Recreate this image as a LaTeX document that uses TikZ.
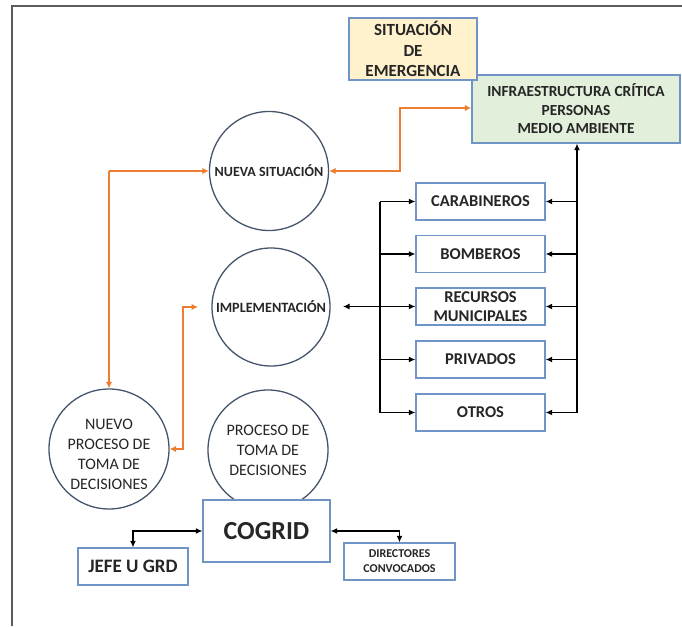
\documentclass[tikz,border=0pt]{standalone}
\usepackage{fontspec}
\setmainfont{Carlito}
\usetikzlibrary{arrows.meta}
\definecolor{boxblue}{HTML}{7094C6}
\definecolor{circblue}{HTML}{44546A}
\definecolor{txt}{HTML}{262626}
\definecolor{orangeline}{HTML}{ED7D31}
\definecolor{yellowfill}{HTML}{FFF2CC}
\definecolor{greenfill}{HTML}{E2EFDA}
\definecolor{framegray}{HTML}{5A5A5A}
\begin{document}
\begin{tikzpicture}[x=1pt,y=-1pt,
  box/.style={draw=boxblue, line width=1.4pt, fill=white, align=center, inner sep=0pt, text=txt,
    font=\bfseries\fontsize{16.5}{19}\selectfont},
  circ/.style={circle, draw=circblue, line width=1.3pt, fill=white, align=center, inner sep=0pt, text=txt,
    font=\fontsize{16}{20}\selectfont},
  ctext/.style={align=center, inner sep=0pt, text=txt, font=\fontsize{16}{20}\selectfont},
  arr/.style={line width=1.1pt, draw=black, -{Latex[length=6.5pt,width=6pt]}},
  arrb/.style={line width=1.1pt, draw=black, {Latex[length=6.5pt,width=6pt]}-{Latex[length=6.5pt,width=6pt]}},
  oarr/.style={line width=2.2pt, draw=orangeline, -{Latex[length=6.5pt,width=6.5pt]}},
  oarrb/.style={line width=2.2pt, draw=orangeline, {Latex[length=6.5pt,width=6.5pt]}-{Latex[length=6.5pt,width=6.5pt]}},
  bus/.style={line width=1.1pt, draw=black}
]
\useasboundingbox (0,0) rectangle (682,626);
% outer frame
\draw[line width=1.5pt, framegray] (12,626) -- (12,6) -- (682,6);

% top boxes
\node[box, fill=greenfill, minimum width=208pt, minimum height=68pt, font=\bfseries\fontsize{15.4}{18.5}\selectfont]
  (infra) at (576,109) {INFRAESTRUCTURA CRÍTICA\\PERSONAS\\MEDIO AMBIENTE};
\node[box, fill=yellowfill, minimum width=128pt, minimum height=62pt, font=\bfseries\fontsize{17}{20.5}\selectfont]
  (sit) at (413,49) {SITUACIÓN\\DE\\EMERGENCIA};

% circles
\node[circ, minimum size=119pt, font=\bfseries\fontsize{14}{16}\selectfont] (nueva) at (269,171) {NUEVA SITUACIÓN};
\node[circ, minimum size=118pt, font=\bfseries\fontsize{14.2}{16}\selectfont] (impl) at (271,307) {IMPLEMENTACIÓN};
\node[circ, minimum size=120pt] (nuevop) at (109,449) {};
\node[ctext] (nuevoptext) at ([yshift=-5pt]nuevop.center) {NUEVO\\PROCESO DE\\TOMA DE\\DECISIONES};
\node[circ, minimum size=120pt] (proc) at (268,450) {PROCESO DE\\TOMA DE\\DECISIONES};

% cogrid and bottom boxes
\node[box, minimum width=127pt, minimum height=62pt, font=\bfseries\fontsize{26}{30}\selectfont] (cogrid) at (266.5,531) {COGRID};
\node[box, minimum width=110pt, minimum height=37pt, font=\bfseries\fontsize{19}{22}\selectfont] (jefe) at (133,566.5) {JEFE U GRD};
\node[box, minimum width=111pt, minimum height=37pt, font=\bfseries\fontsize{12}{15}\selectfont] (dir) at (399.5,561.5) {DIRECTORES\\CONVOCADOS};

% resource boxes
\node[box, minimum width=129pt, minimum height=37pt] (carab) at (480.5,201.5) {CARABINEROS};
\node[box, minimum width=129pt, minimum height=37pt] (bomb) at (480.5,254) {BOMBEROS};
\node[box, minimum width=129pt, minimum height=37pt, font=\bfseries\fontsize{16.5}{18.5}\selectfont] (recu) at (480.5,306.5) {RECURSOS\\MUNICIPALES};
\node[box, minimum width=129pt, minimum height=37pt] (priv) at (480.5,359.5) {PRIVADOS};
\node[box, minimum width=129pt, minimum height=37pt] (otros) at (480.5,412.5) {OTROS};

% left bus
\coordinate (lb) at (380,0);
\coordinate (implTip) at (343,306.5);
\draw[bus] (lb |- carab) -- (lb |- otros);
\foreach \n in {carab,bomb,recu,priv,otros}{
  \draw[arr] (lb |- \n) -- (\n.west);
}
\draw[arr] (lb |- recu) -- (implTip);

% right bus
\coordinate (rb) at (577,0);
\draw[arr] (rb |- otros) -- (rb |- infra.south);
\foreach \n in {carab,bomb,recu,priv,otros}{
  \draw[arr] (rb |- \n) -- (\n.east);
}

% cogrid connectors
\draw[arrb] (jefe.north) |- (cogrid.west);
\draw[arrb] (dir.north) |- (cogrid.east);

% orange connectors
\coordinate (o1) at (400,108);
\draw[oarrb] (nueva.east) -| (o1) -- (o1 -| infra.west);
\coordinate (o2) at (109,171);
\draw[oarr] (o2) -- (nueva.west);
\draw[oarr] (o2) -- (nuevop.north);
\coordinate (o3) at (183,0);
\coordinate (o3b) at (198,307);
\draw[oarrb] (nuevop.east) -- (o3 |- nuevop.east) -- (o3 |- o3b) -- (o3b);
\end{tikzpicture}
\end{document}
